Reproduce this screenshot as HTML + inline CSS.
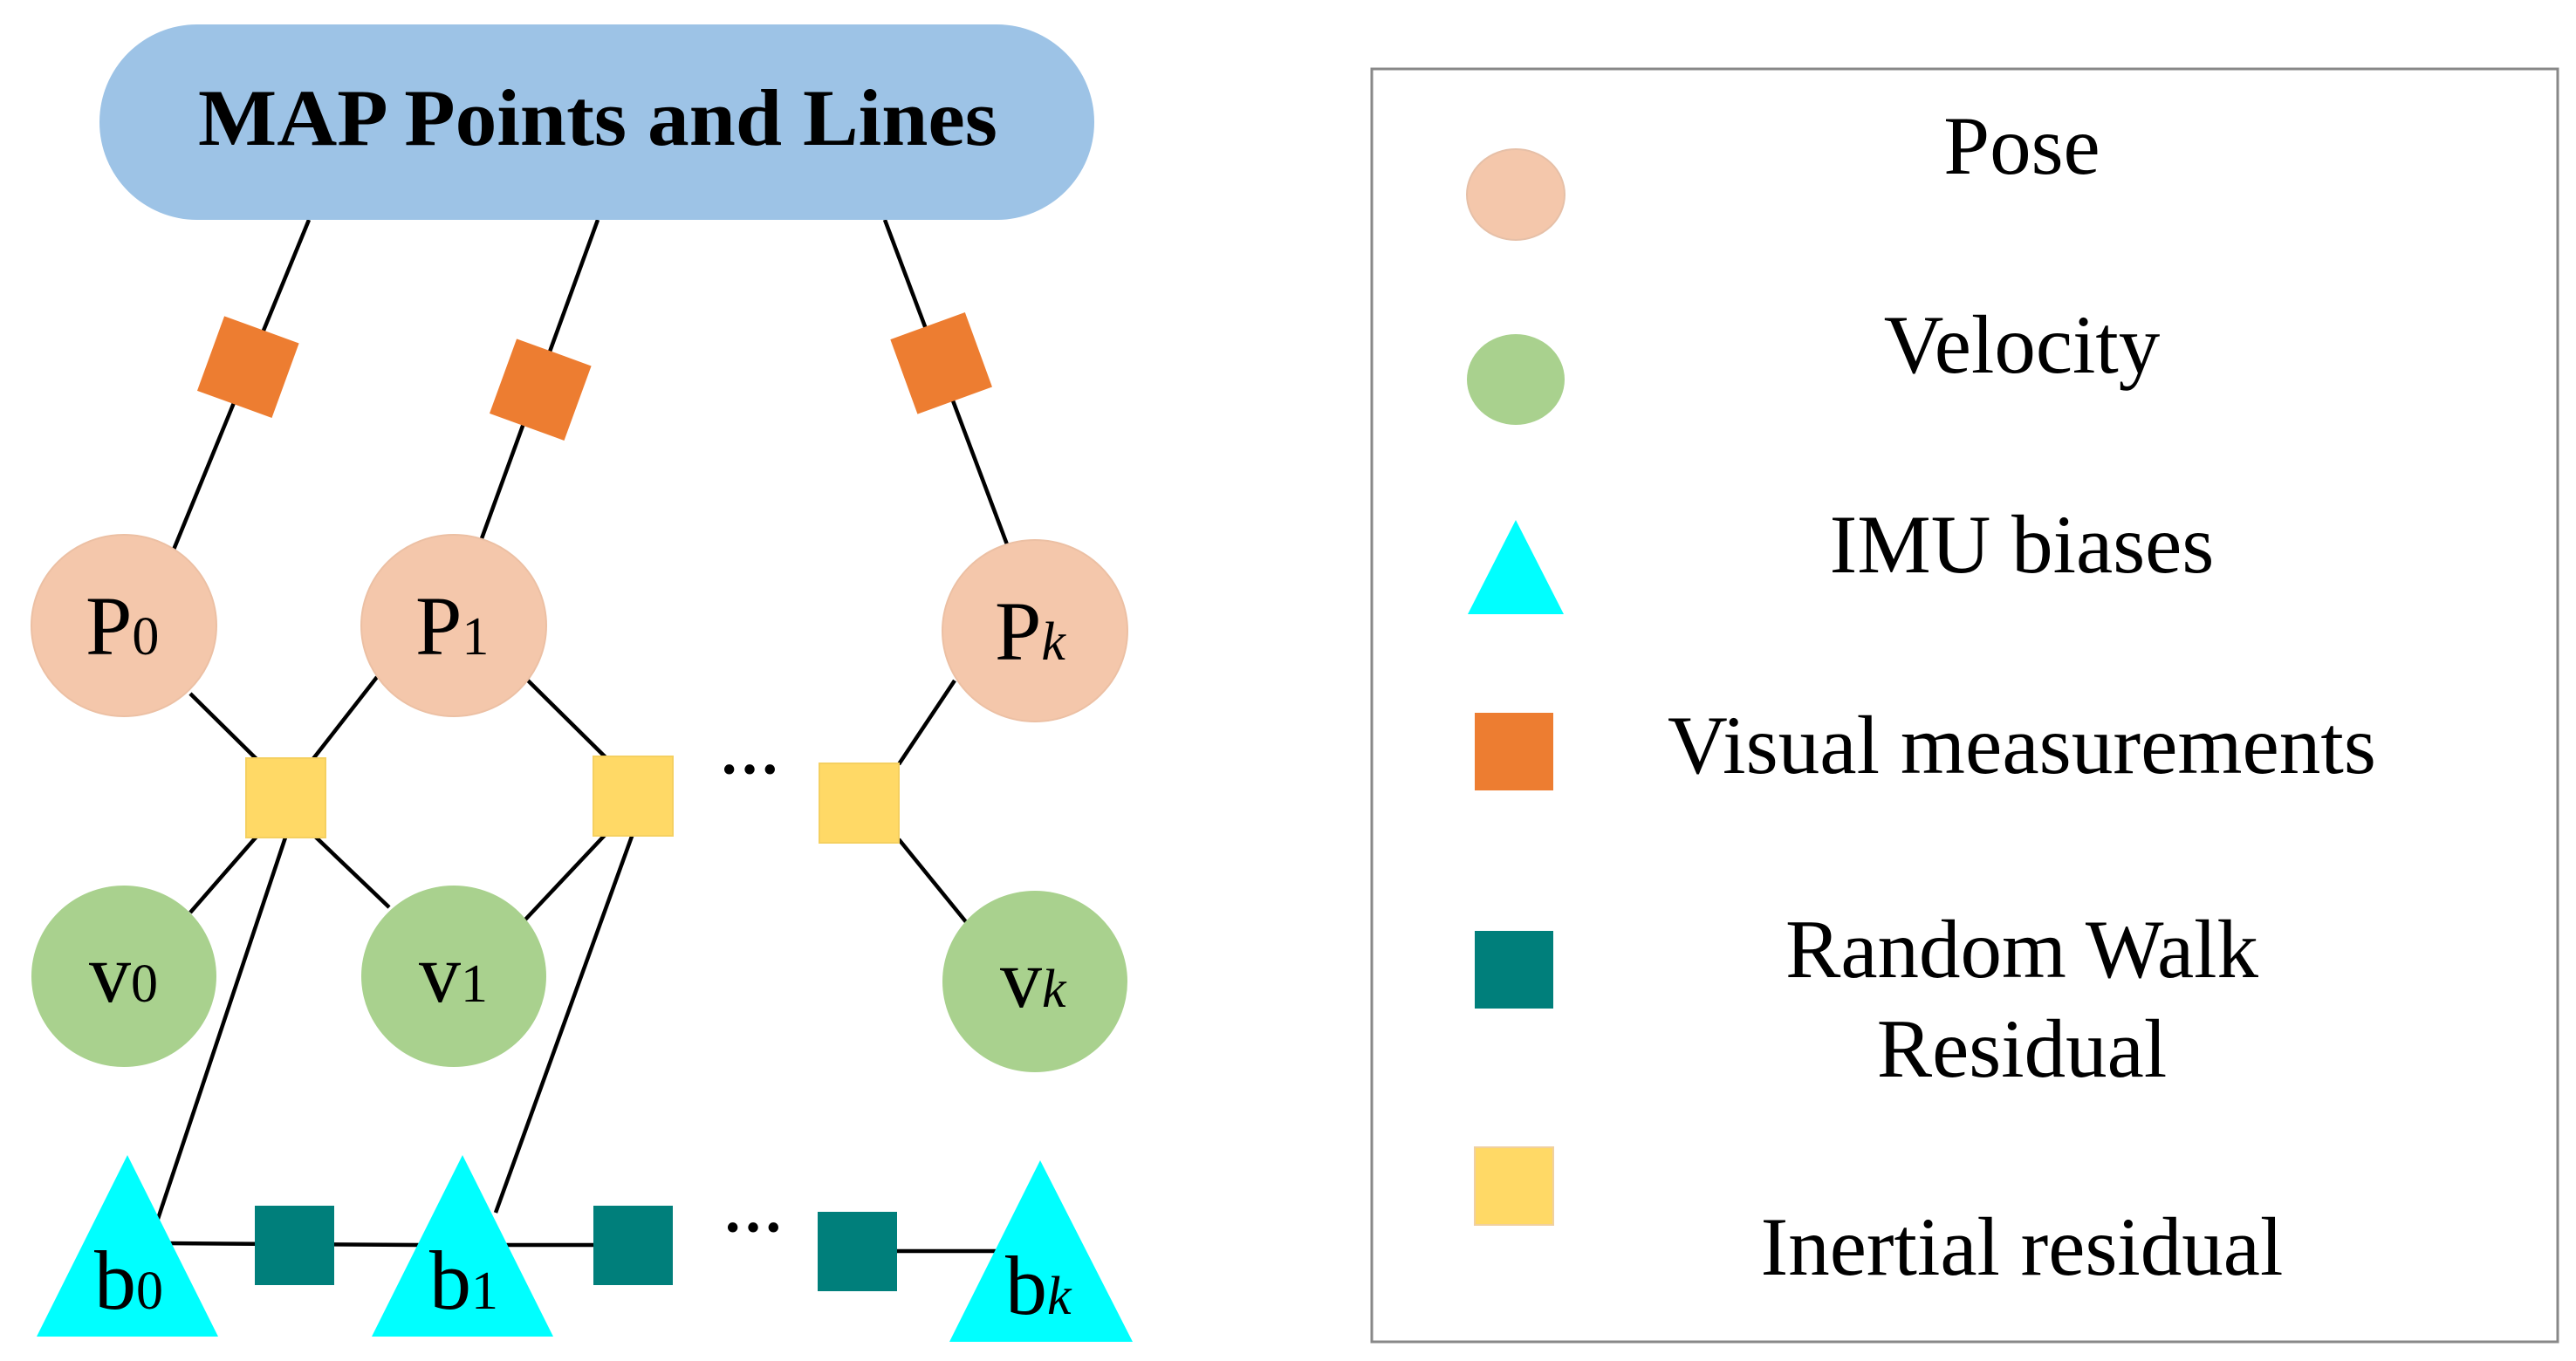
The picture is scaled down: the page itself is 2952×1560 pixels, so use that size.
<!DOCTYPE html>
<html><head><meta charset="utf-8"><style>html,body{margin:0;padding:0;background:#fff}svg{display:block}</style></head>
<body>
<svg width="2952" height="1560" viewBox="0 0 2952 1560" xmlns="http://www.w3.org/2000/svg" font-family="Liberation Serif, serif">
<rect width="2952" height="1560" fill="#fff"/>
<g stroke="#000" stroke-width="4.5" fill="none">
<line x1="354" y1="252" x2="199" y2="630"/>
<line x1="685" y1="252" x2="551" y2="620"/>
<line x1="1014" y1="252" x2="1154" y2="624"/>
<line x1="218" y1="795" x2="300" y2="876"/>
<line x1="354" y1="876" x2="432" y2="776"/>
<line x1="300" y1="952" x2="218" y2="1046"/>
<line x1="354" y1="952" x2="446" y2="1040"/>
<line x1="327" y1="960" x2="180" y2="1400"/>
<line x1="605" y1="780" x2="698" y2="872"/>
<line x1="698" y1="952" x2="602" y2="1054"/>
<line x1="725" y1="956" x2="568" y2="1390"/>
<line x1="1094" y1="780" x2="1030" y2="876"/>
<line x1="1030" y1="962" x2="1108" y2="1058"/>
<line x1="190" y1="1425" x2="480" y2="1427"/>
<line x1="580" y1="1427" x2="730" y2="1427"/>
<line x1="982" y1="1434" x2="1150" y2="1434"/>
</g>
<rect x="114" y="28" width="1140" height="224" rx="112" fill="#9dc3e6"/>
<text x="685" y="166" text-anchor="middle" font-weight="bold" font-size="92" textLength="916" lengthAdjust="spacingAndGlyphs">MAP Points and Lines</text>
<g fill="#ed7d31">
<rect x="-45" y="-45" width="91" height="91" transform="translate(284,420) rotate(20)"/>
<rect x="-45" y="-45" width="91" height="91" transform="translate(619,446) rotate(20)"/>
<rect x="-45" y="-45" width="91" height="91" transform="translate(1078,416) rotate(-20)"/>
</g>
<g fill="#f4c7ab" stroke="#ecc0a4" stroke-width="2">
<ellipse cx="142" cy="717" rx="106" ry="104"/>
<ellipse cx="520" cy="717" rx="106" ry="104"/>
<ellipse cx="1186" cy="723" rx="106" ry="104"/>
</g>
<g fill="#a9d18e">
<ellipse cx="142" cy="1119" rx="106" ry="104"/>
<ellipse cx="520" cy="1119" rx="106" ry="104"/>
<ellipse cx="1186" cy="1125" rx="106" ry="104"/>
</g>
<g font-size="96">
<text x="98" y="750">P<tspan font-size="62">0</tspan></text>
<text x="476" y="750">P<tspan font-size="62">1</tspan></text>
<text x="1140" y="756">P<tspan font-size="62" font-style="italic">k</tspan></text>
<text x="102" y="1148">v<tspan font-size="62">0</tspan></text>
<text x="480" y="1148">v<tspan font-size="62">1</tspan></text>
<text x="1146" y="1154">v<tspan font-size="62" font-style="italic">k</tspan></text>
</g>
<g fill="#ffd966" stroke="#f5d060" stroke-width="2">
<rect x="282" y="869" width="91" height="91"/>
<rect x="680" y="867" width="91" height="91"/>
<rect x="939" y="875" width="91" height="91"/>
</g>
<text x="859" y="905" text-anchor="middle" font-size="70" font-weight="bold">···</text>
<g fill="#007f7b">
<rect x="292" y="1382" width="91" height="91"/>
<rect x="680" y="1382" width="91" height="91"/>
<rect x="937" y="1389" width="91" height="91"/>
</g>
<text x="863" y="1430" text-anchor="middle" font-size="70" font-weight="bold">···</text>
<g fill="#00ffff">
<polygon points="146,1324 250,1532 42,1532"/>
<polygon points="530,1324 634,1532 426,1532"/>
<polygon points="1192,1330 1298,1538 1088,1538"/>
</g>
<g font-size="96">
<text x="108" y="1500">b<tspan font-size="62">0</tspan></text>
<text x="492" y="1500">b<tspan font-size="62">1</tspan></text>
<text x="1152" y="1506">b<tspan font-size="62" font-style="italic">k</tspan></text>
</g>
<rect x="1572" y="79" width="1359" height="1459" fill="none" stroke="#888" stroke-width="3"/>
<ellipse cx="1737" cy="223" rx="56" ry="52" fill="#f4c7ab" stroke="#e6c0a8" stroke-width="2"/>
<ellipse cx="1737" cy="435" rx="56" ry="52" fill="#a9d18e"/>
<polygon points="1737,596 1792,704 1682,704" fill="#00ffff"/>
<rect x="1690" y="817" width="90" height="89" fill="#ed7d31"/>
<rect x="1690" y="1067" width="90" height="89" fill="#007f7b"/>
<rect x="1690" y="1315" width="90" height="89" fill="#ffd966" stroke="#f0d0a0" stroke-width="2"/>
<g font-size="95" text-anchor="middle">
<text x="2317" y="199">Pose</text>
<text x="2317" y="427">Velocity</text>
<text x="2317" y="656">IMU biases</text>
<text x="2317" y="886" textLength="812" lengthAdjust="spacingAndGlyphs">Visual measurements</text>
<text x="2317" y="1120">Random Walk</text>
<text x="2317" y="1234">Residual</text>
<text x="2317" y="1461">Inertial residual</text>
</g>
</svg>
</body></html>
